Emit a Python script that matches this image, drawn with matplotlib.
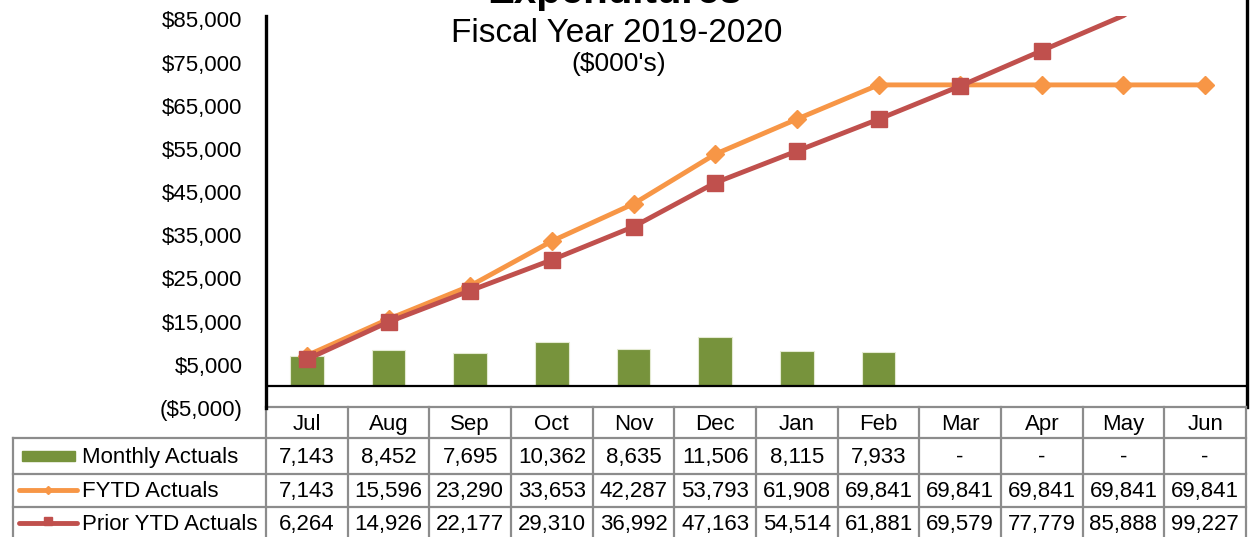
import matplotlib
matplotlib.use('Agg')
import matplotlib.pyplot as plt
from matplotlib.lines import Line2D
from matplotlib.patches import Rectangle

plt.rcParams['font.family'] = ['Liberation Sans', 'DejaVu Sans']

months = ['Jul', 'Aug', 'Sep', 'Oct', 'Nov', 'Dec', 'Jan', 'Feb', 'Mar', 'Apr', 'May', 'Jun']
monthly = [7143, 8452, 7695, 10362, 8635, 11506, 8115, 7933, None, None, None, None]
fytd = [7143, 15596, 23290, 33653, 42287, 53793, 61908, 69841, 69841, 69841, 69841, 69841]
prior = [6264, 14926, 22177, 29310, 36992, 47163, 54514, 61881, 69579, 77779, 85888, 99227]
series_names = ['Monthly Actuals', 'FYTD Actuals', 'Prior YTD Actuals']
yticks = [-5000, 5000, 15000, 25000, 35000, 45000, 55000, 65000, 75000, 85000]

green = '#77933C'
orange = '#F79646'
red = '#C0504D'
grid_gray = '#8c8c8c'

W, H = 1258, 537
fig = plt.figure(figsize=(W / 100, H / 100), dpi=100)

# overlay in pixel coords for titles and data table
ov = fig.add_axes([0, 0, 1, 1])
ov.set_xlim(0, W)
ov.set_ylim(H, 0)
ov.axis('off')

# plot area, in pixel layout
left, right, top, bottom = 266, 1246, 16, 408
ax = fig.add_axes([left / W, (H - bottom) / H, (right - left) / W, (bottom - top) / H])
ax.patch.set_visible(False)
ymin, ymax = -5000, 85800
ax.set_xlim(-0.5, 11.5)
ax.set_ylim(ymin, ymax)

x = list(range(len(months)))
bx = [i for i, v in enumerate(monthly) if v is not None]
bv = [v for v in monthly if v is not None]
ax.bar(bx, bv, width=0.41, color=green, edgecolor='#e4ead2', linewidth=0.8, zorder=2)
ax.axhline(0, color='black', lw=1.6, zorder=3)
ax.plot(x, fytd, color=orange, lw=3.5, marker='D', ms=9, zorder=4)
vis = [v <= ymax for v in prior]
ax.plot(x, prior, color=red, lw=3.5, marker='s', ms=12, markevery=vis, zorder=5)

ax.set_yticks(yticks)
ax.set_yticklabels([('(${:,})'.format(-v) if v < 0 else '${:,}'.format(v)) for v in yticks])
ax.tick_params(axis='y', length=0, pad=17, labelsize=16)
ax.set_xticks([])
for s in ['top', 'right', 'bottom']:
    ax.spines[s].set_visible(False)
ax.spines['left'].set_linewidth(2.4)

ov.text(615, 3, 'Expenditures', ha='center', va='baseline', fontsize=29, fontweight='bold')
ov.text(617, 42, 'Fiscal Year 2019-2020', ha='center', va='baseline', fontsize=24)
ov.text(619, 64, "($000's)", ha='center', va='center', fontsize=19)

ov.plot([1247, 1247], [0, 407], color='black', lw=2.4)

# data table
cw = (right - left) / len(months)
rows_y = [407, 438, 474, 507, 540]
lab_x = 13
lw_t = 1.6
ov.plot([left, right], [rows_y[0]] * 2, color=grid_gray, lw=lw_t)
for y in rows_y[1:4]:
    ov.plot([lab_x, right], [y, y], color=grid_gray, lw=lw_t)
for i in range(len(months) + 1):
    ov.plot([left + i * cw] * 2, [rows_y[0], H], color=grid_gray, lw=lw_t)
ov.plot([lab_x, lab_x], [rows_y[1], H], color=grid_gray, lw=lw_t)

for i, m in enumerate(months):
    cx = left + (i + 0.5) * cw
    ov.text(cx, (rows_y[0] + rows_y[1]) / 2 + 2, m, ha='center', va='center', fontsize=16)
    cols = [monthly[i], fytd[i], prior[i]]
    for r, v in enumerate(cols):
        cy = (rows_y[r + 1] + rows_y[r + 2]) / 2 + 1
        ov.text(cx, cy, '-' if v is None else '{:,}'.format(v), ha='center', va='center', fontsize=16)

for r, name in enumerate(series_names):
    cy = (rows_y[r + 1] + rows_y[r + 2]) / 2 + 1
    ov.text(82, cy, name, ha='left', va='center', fontsize=16)

# legend keys
ov.add_patch(Rectangle((22, 451), 53, 10, color=green))
ov.add_line(Line2D([19, 77], [490, 490], color=orange, lw=3.5, solid_capstyle='round'))
ov.add_line(Line2D([48], [490], color=orange, marker='D', ms=4))
ov.add_line(Line2D([19, 77], [523, 523], color=red, lw=3.5, solid_capstyle='round'))
ov.add_line(Line2D([48], [521], color=red, marker='s', ms=6))

fig.savefig('out.png', dpi=100)
